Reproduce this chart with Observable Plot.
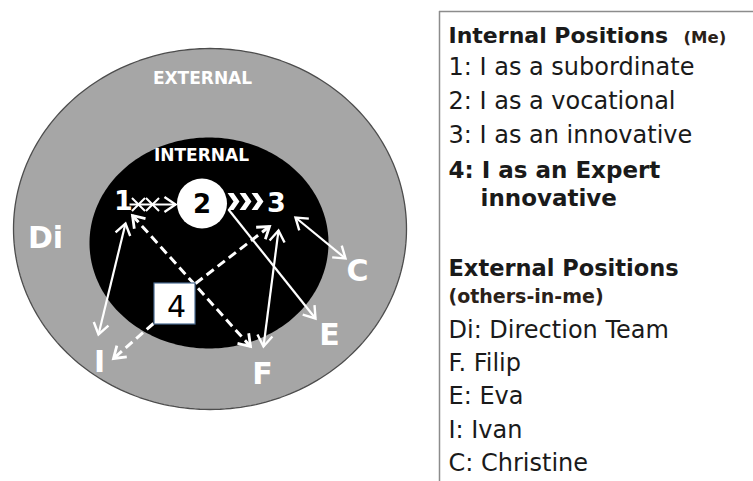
<!DOCTYPE html>
<html>
<head>
<meta charset="utf-8">
<script src="https://cdn.jsdelivr.net/npm/d3@7"></script>
<script src="https://cdn.jsdelivr.net/npm/@observablehq/plot@0.6"></script>
<style>
  html, body { margin: 0; padding: 0; background: #fff; }
  #chart svg { display: block; }
</style>
</head>
<body>
<div id="chart"></div>
<script>
// ---------------- DATA ----------------
const ringLabels = ["EXTERNAL", "INTERNAL"];
const internalPositions = ["1", "2", "3", "4"];
const externalPositions = ["Di", "F", "E", "I", "C"];
// relations between positions: [from, to, kind, heads]
const relations = [
  ["1", "2", "solid", "end"],
  ["1", "I", "solid", "both"],
  ["3", "F", "solid", "both"],
  ["3", "C", "solid", "both"],
  ["2", "E", "solid", "end"],
  ["1", "F", "dashed", "both"],
  ["4", "3", "dashed", "end"],
  ["4", "I", "dashed", "end"]
];
const blockedCrossings = 2;   // "x" marks on 1 -> 2
const progressChevrons = 3;   // chevrons 2 -> 3

const legendInternalTitle = "Internal Positions";
const legendInternalNote = "(Me)";
const legendInternal = ["1: I as a subordinate", "2: I as a vocational", "3: I as an innovative"];
const legendExpert = ["4: I as an Expert", "innovative"];
const legendExternalTitle = "External Positions";
const legendExternalNote = "(others-in-me)";
const legendExternal = ["Di: Direction Team", "F. Filip", "E: Eva", "I: Ivan", "C: Christine"];

// ---------------- LAYOUT (pixel positions of the diagram) ----------------
const ringGeom = {
  EXTERNAL: {cx: 209.5, cy: 228.5, rx: 196.5, ry: 180.5, fill: "#a6a6a6", stroke: "#4d4d4d", lx: 202, ly: 78},
  INTERNAL: {cx: 208.5, cy: 242.5, rx: 119.5, ry: 105.5, fill: "#000000", stroke: "none", lx: 201, ly: 155}
};
const nodeGeom = {
  "1": [123, 200], "2": [201.5, 203], "3": [276, 202], "4": [174.5, 303.5],
  "Di": [45, 237], "F": [262, 373], "E": [329, 334], "I": [99, 361], "C": [357, 270]
};
const relationEnds = {
  "1-2": [129, 204, 175, 204],
  "1-I": [125, 223, 98, 334],
  "3-F": [278, 230, 263, 346],
  "3-C": [295, 217, 345, 258],
  "2-E": [228, 209, 315, 318],
  "1-F": [132, 215, 250, 346],
  "4-3": [195, 283, 269, 226],
  "4-I": [153, 323, 113, 358]
};
const crossX = [138, 152], crossY = 204;
const chevronX = [233, 245, 257], chevronY = 201;

const legendX = 448, legendIndentX = 480;
const baselines = {
  internalTitle: 42, internal: [74, 108, 142], expert: [177, 205],
  externalTitle: 275, externalNote: 302, external: [337, 370, 403, 437, 470]
};

// ---------------- BUILD ----------------
function ellipsePts(name) {
  const g = ringGeom[name];
  return d3.range(240).map(i => {
    const t = 2 * Math.PI * i / 240;
    return {name, x: g.cx + g.rx * Math.cos(t), y: g.cy + g.ry * Math.sin(t)};
  });
}

const rows = relations.map(([from, to, kind, heads]) => {
  const [x1, y1, x2, y2] = relationEnds[from + "-" + to];
  return {from, to, kind, heads, x1, y1, x2, y2};
});
const headRows = [];
for (const r of rows) {
  headRows.push({kind: r.kind, x: r.x2, y: r.y2, angle: Math.atan2(r.y2 - r.y1, r.x2 - r.x1) * 180 / Math.PI});
  if (r.heads === "both") headRows.push({kind: r.kind, x: r.x1, y: r.y1, angle: Math.atan2(r.y1 - r.y2, r.x1 - r.x2) * 180 / Math.PI});
}

const headSymbol = {
  draw(ctx, size) {
    const r = Math.sqrt(size / Math.PI);
    ctx.moveTo(-r * 0.85, -r * 0.58);
    ctx.lineTo(0, 0);
    ctx.lineTo(-r * 0.85, r * 0.58);
  }
};
const chevronSymbol = {
  draw(ctx, size) {
    const r = Math.sqrt(size / Math.PI);
    ctx.moveTo(-r * 0.7, -r);
    ctx.lineTo(0, -r);
    ctx.lineTo(r * 0.7, 0);
    ctx.lineTo(0, r);
    ctx.lineTo(-r * 0.7, r);
    ctx.lineTo(0, 0);
    ctx.closePath();
  }
};

const crosses = d3.range(blockedCrossings).map(i => ({x: crossX[i], y: crossY}));
const chevrons = d3.range(progressChevrons).map(i => ({x: chevronX[i], y: chevronY}));

const nodeRows = [...internalPositions, ...externalPositions].map(k => ({key: k, x: nodeGeom[k][0], y: nodeGeom[k][1]}));
const box4 = nodeRows.filter(d => d.key === "4");
const circle2 = nodeRows.filter(d => d.key === "2");
const whiteNums = nodeRows.filter(d => d.key === "1" || d.key === "3");
const extNodes = nodeRows.filter(d => externalPositions.includes(d.key));

const ink = "#1a1a1a";
const mid = fs => 0.32 * fs;

const chart = Plot.plot({
  width: 753,
  height: 481,
  margin: 0,
  x: {domain: [0, 753], range: [0, 753], axis: null},
  y: {domain: [0, 481], range: [0, 481], axis: null},
  style: {background: "#ffffff", fontFamily: "'DejaVu Sans', sans-serif"},
  marks: [
    // rings
    ...ringLabels.map(name => Plot.line(ellipsePts(name), {
      x: "x", y: "y", curve: "linear-closed",
      fill: ringGeom[name].fill, stroke: ringGeom[name].stroke, strokeWidth: 1.3
    })),
    Plot.text(ringLabels, {
      x: d => ringGeom[d].lx, y: d => ringGeom[d].ly, text: d => d,
      fill: "white", fontWeight: "bold", fontSize: 17
    }),
    // relation lines
    Plot.link(rows.filter(d => d.kind === "solid"), {
      x1: "x1", y1: "y1", x2: "x2", y2: "y2", stroke: "white", strokeWidth: 2.2
    }),
    Plot.link(rows.filter(d => d.kind === "dashed"), {
      x1: "x1", y1: "y1", x2: "x2", y2: "y2", stroke: "white", strokeWidth: 3, strokeDasharray: "9,5"
    }),
    Plot.dot(headRows, {
      x: "x", y: "y", rotate: "angle", symbol: headSymbol, r: 13,
      fill: "none", stroke: "white", strokeWidth: d => d.kind === "dashed" ? 2.8 : 2.4,
      strokeLinecap: "butt", strokeLinejoin: "miter"
    }),
    Plot.dot(crosses, {x: "x", y: "y", symbol: "times", r: 6, stroke: "white", strokeWidth: 2}),
    Plot.dot(chevrons, {x: "x", y: "y", symbol: chevronSymbol, r: 8.5, fill: "white", stroke: "none"}),
    // internal node 2 (circle) and 4 (box)
    Plot.dot(circle2, {x: "x", y: "y", r: 25, fill: "white", stroke: "none"}),
    Plot.text(circle2, {x: "x", y: d => d.y + 1, text: "key", fill: "black", fontWeight: "bold", fontSize: 26}),
    Plot.rect(box4, {
      x1: d => d.x - 20.5, x2: d => d.x + 20.5, y1: d => d.y - 20.5, y2: d => d.y + 20.5,
      fill: "white", stroke: "#4a6b92", strokeWidth: 1.2
    }),
    Plot.text(box4, {x: d => d.x + 1.5, y: d => d.y + 3, text: "key", fill: "black", fontSize: 30}),
    Plot.text(whiteNums, {x: "x", y: d => d.y + 1, text: "key", fill: "white", fontWeight: "bold", fontSize: 27}),
    // external nodes
    Plot.text(extNodes, {x: "x", y: d => d.y + 1, text: "key", fill: "white", fontWeight: "bold", fontSize: 30}),

    // legend frame
    Plot.ruleX([439], {y1: 11, y2: 481, stroke: "#8c8c8c", strokeWidth: 1.5}),
    Plot.ruleY([11], {x1: 439, x2: 753, stroke: "#8c8c8c", strokeWidth: 1.5}),
    // legend text
    Plot.text([legendInternalTitle], {
      x: legendX, y: baselines.internalTitle - mid(22), text: d => d, textAnchor: "start",
      fontWeight: "bold", fontSize: 22, fill: ink
    }),
    Plot.text([legendInternalNote], {
      x: 683, y: baselines.internalTitle - mid(16.5), text: d => d, textAnchor: "start",
      fontWeight: "bold", fontSize: 16.5, fill: "#2b2118"
    }),
    Plot.text(legendInternal, {
      x: legendX, y: (d, i) => baselines.internal[i] - mid(24), text: d => d, textAnchor: "start",
      fontSize: 24, fill: ink
    }),
    Plot.text(legendExpert, {
      x: (d, i) => i === 0 ? legendX : legendIndentX, y: (d, i) => baselines.expert[i] - mid(23),
      text: d => d, textAnchor: "start", fontWeight: "bold", fontSize: 23, fill: ink
    }),
    Plot.text([legendExternalTitle], {
      x: legendX, y: baselines.externalTitle - mid(22.5), text: d => d, textAnchor: "start",
      fontWeight: "bold", fontSize: 22.5, fill: ink
    }),
    Plot.text([legendExternalNote], {
      x: legendX, y: baselines.externalNote - mid(19), text: d => d, textAnchor: "start",
      fontWeight: "bold", fontSize: 19, fill: "#2b2118"
    }),
    Plot.text(legendExternal, {
      x: legendX, y: (d, i) => baselines.external[i] - mid(24), text: d => d, textAnchor: "start",
      fontSize: 24, fill: ink
    })
  ]
});
document.getElementById("chart").append(chart);
</script>
</body>
</html>
